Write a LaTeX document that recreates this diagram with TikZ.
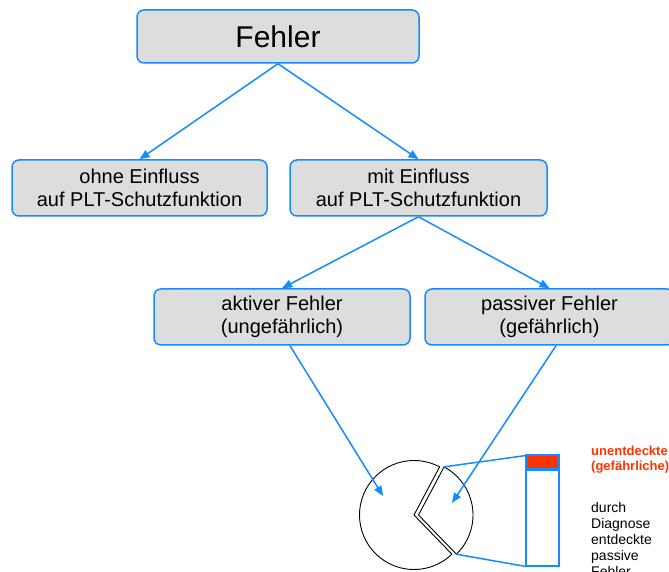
\documentclass[tikz,border=0pt]{standalone}
\usepackage{fontspec}
\setmainfont{Liberation Sans}
\usetikzlibrary{arrows.meta}
\definecolor{linkblue}{RGB}{20,140,255}
\definecolor{boxgray}{RGB}{221,221,221}
\definecolor{alarmred}{RGB}{255,51,0}

\begin{document}
\begin{tikzpicture}[x=1pt,y=1pt,
  faultbox/.style={draw=linkblue, line width=1.5pt, fill=boxgray,
    rounded corners=7pt, align=center, inner sep=0pt,
    font=\fontsize{20}{23}\selectfont},
  twoline/.style={execute at begin node={\rule{0pt}{19.5pt}}},
  flow/.style={draw=linkblue, line width=1.5pt,
    -{Triangle[length=10pt,width=8pt]}},
  zoomline/.style={draw=linkblue, line width=1.5pt},
  pie/.style={draw=black, line width=0.9pt},
  redlbl/.style={text=alarmred, inner sep=0pt, anchor=base west,
    font=\fontsize{13}{15}\selectfont\bfseries},
  blacklbl/.style={inner sep=0pt, anchor=base west,
    font=\fontsize{14}{16}\selectfont},
]
\useasboundingbox (0,0) rectangle (669,572);
\clip (0,0) rectangle (669,572);

% classification boxes
\node[faultbox, minimum width=282pt, minimum height=53pt,
      font=\fontsize{30}{34}\selectfont] (root) at (278,535.5) {Fehler};
\node[faultbox, twoline, minimum width=255pt, minimum height=56pt]
      (ohne) at (139.5,384) {ohne Einfluss\\auf PLT-Schutzfunktion};
\node[faultbox, twoline, minimum width=257pt, minimum height=56pt]
      (mit) at (418.5,384) {mit Einfluss\\auf PLT-Schutzfunktion};
\node[faultbox, twoline, minimum width=256pt, minimum height=56pt]
      (akt) at (282,255) {aktiver Fehler\\(ungefährlich)};
\node[faultbox, twoline, minimum width=249pt, minimum height=56pt]
      (pas) at (549.5,255) {passiver Fehler\\(gefährlich)};

% pie chart with the passive slice pulled out
\coordinate (bigc) at (414,57);
\coordinate (slc) at (418.5,57);
\draw[pie] (bigc) -- ++(62:54.5)
  arc[start angle=62, end angle=314, radius=54.5] -- cycle;
\draw[pie] (slc) -- ++(-46:54.5) coordinate (slow)
  arc[start angle=-46, end angle=62, radius=54.5] coordinate (shigh) -- cycle;

% bar splitting the passive faults
\node[draw=linkblue, line width=2pt, minimum width=33pt, minimum height=111pt,
      inner sep=0pt, outer sep=0pt] (bar) at (542.5,61) {};
\fill[alarmred] ([shift={(1,-1)}]bar.north west)
  rectangle ([shift={(-1,-13)}]bar.north east);
\draw[linkblue, line width=2.7pt] ([yshift=-14.2pt]bar.north west)
  -- ([yshift=-14.2pt]bar.north east);
\draw[zoomline] (shigh) -- (bar.north west);
\draw[zoomline] (slow) -- (bar.south west);

% connectors
\coordinate (hitA) at (383,76);
\coordinate (hitP) at (452,69);
\draw[flow] (root.south) -- (ohne.north);
\draw[flow] (root.south) -- (mit.north);
\draw[flow] (mit.south) -- (akt.north);
\draw[flow] (mit.south) -- (pas.north);
\draw[flow] ([xshift=8pt]akt.south) -- (hitA);
\draw[flow] ([xshift=6.5pt]pas.south) -- (hitP);

% legend of the bar
\node[redlbl] (u1) at (591,116.3) {unentdeckte};
\node[redlbl] (u2) at (591,101.3) {(gefährliche)};
\node[blacklbl] (d1) at (591,59) {durch};
\node[blacklbl] (d2) at (591,43) {Diagnose};
\node[blacklbl] (d3) at (591,27) {entdeckte};
\node[blacklbl] (d4) at (591,11) {passive};
\node[blacklbl] (d5) at (591,-5) {Fehler};
\end{tikzpicture}
\end{document}
